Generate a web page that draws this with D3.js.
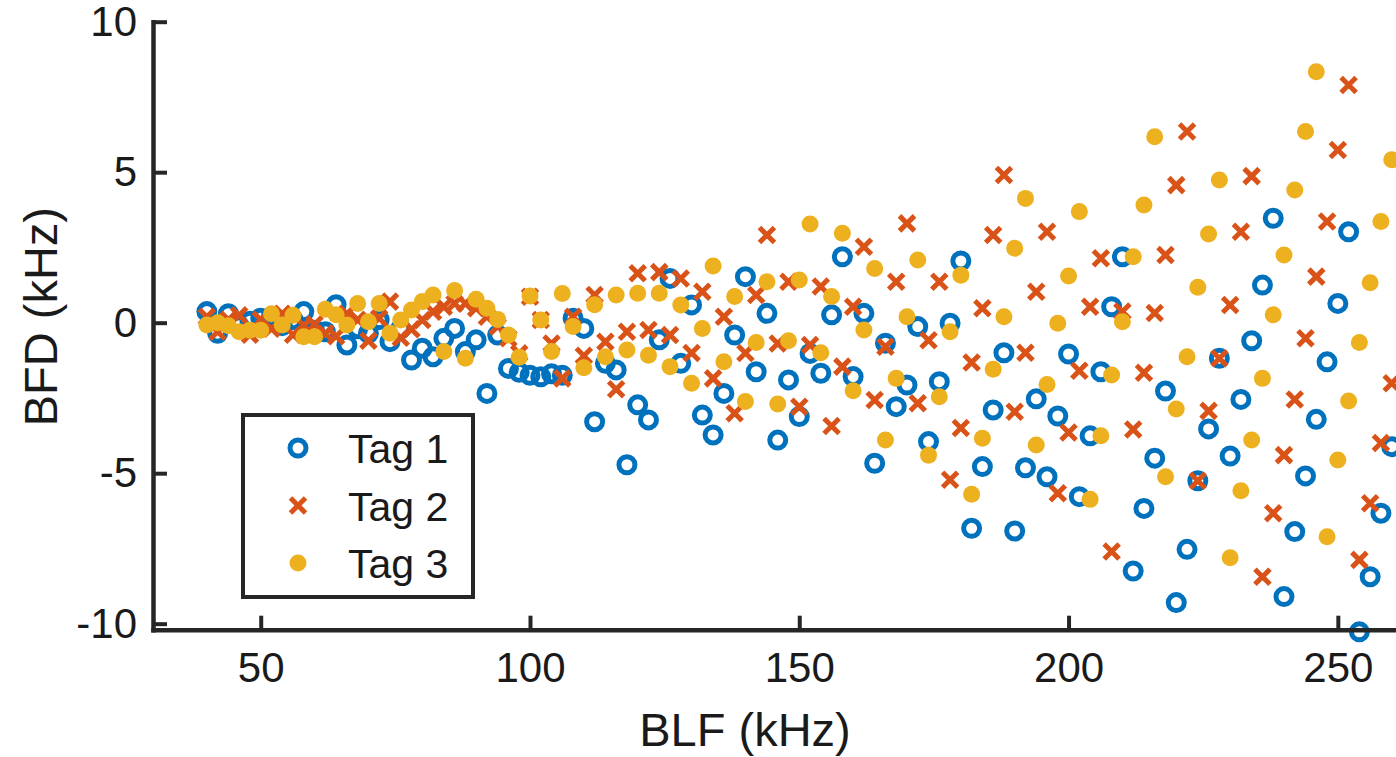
<!DOCTYPE html>
<html>
<head>
<meta charset="utf-8">
<script src="https://cdn.jsdelivr.net/npm/d3@7"></script>
<style>
  body { margin: 0; background: #fff; }
  svg { display: block; font-family: "Liberation Sans", Arial, Helvetica, sans-serif; }
  .axis path, .axis line { stroke: #262626; }
  .axis text { fill: #1a1a1a; }
</style>
</head>
<body>
<svg id="chart"></svg>
<script>
// BLF sweep (kHz)
const blf = [40, 42, 44, 46, 48, 50, 52, 54, 56, 58, 60, 62, 64, 66, 68, 70, 72, 74, 76, 78,
  80, 82, 84, 86, 88, 90, 92, 94, 96, 98, 100, 102, 104, 106, 108, 110, 112, 114, 116, 118,
  120, 122, 124, 126, 128, 130, 132, 134, 136, 138, 140, 142, 144, 146, 148, 150, 152, 154, 156, 158,
  160, 162, 164, 166, 168, 170, 172, 174, 176, 178, 180, 182, 184, 186, 188, 190, 192, 194, 196, 198,
  200, 202, 204, 206, 208, 210, 212, 214, 216, 218, 220, 222, 224, 226, 228, 230, 232, 234, 236, 238,
  240, 242, 244, 246, 248, 250, 252, 254, 256, 258, 260];

// BFD (kHz) per tag
const tag1 = [0.37, -0.35, 0.3, -0.1, 0.05, 0.15, 0.2, -0.1, 0.1, 0.37, -0.25, -0.3, 0.6, -0.74, -0.2, -0.35, 0.1, -0.63, -0.2, -1.24,
  -0.85, -1.13, -0.52, -0.19, -0.96, -0.57, -2.35, -0.41, -1.52, -1.65, -1.75, -1.8, -1.7, -1.75, 0.15, -0.19, -3.29, -1.35, -1.57, -4.72,
  -2.73, -3.23, -0.57, 1.47, -1.35, 0.59, -3.07, -3.73, -2.35, -0.41, 1.53, -1.63, 0.31, -3.9, -1.9, -3.12, -1.02, -1.68, 0.26, 2.19,
  -1.79, 0.31, -4.67, -0.68, -2.79, -2.07, -0.13, -3.95, -1.96, -0.02, 2.05, -6.83, -4.78, -2.9, -1.0, -6.92, -4.82, -2.53, -5.12, -3.1,
  -1.04, -5.78, -3.76, -1.63, 0.53, 2.19, -8.25, -6.17, -4.5, -2.27, -9.3, -7.53, -5.25, -3.53, -1.18, -4.43, -2.55, -0.6, 1.25, 3.47,
  -9.1, -6.94, -5.09, -3.21, -1.3, 0.64, 3.02, -10.27, -8.44, -6.33, -4.12];

const tag2 = [0.2, -0.3, 0.1, 0.25, -0.4, 0.1, -0.2, 0.3, -0.4, -0.1, -0.05, -0.35, -0.45, 0.3, 0.1, -0.6, 0.15, 0.7, -0.5, -0.22,
  0.09, 0.36, 0.53, 0.64, 0.64, 0.48, 0.2, -0.13, -0.52, -1.02, 0.86, 0.09, -0.69, -1.85, 0.2, -1.1, 0.92, -0.63, -2.21, -0.3,
  1.64, -0.24, 1.68, -0.41, 1.47, -1.01, 1.03, -1.85, 0.2, -3.01, -1.01, 0.92, 2.91, -0.69, 1.36, -2.79, -0.74, 1.2, -3.43, -1.46,
  0.53, 2.52, -2.57, -0.8, 1.36, 3.3, -2.68, -0.58, 1.36, -5.22, -3.5, -1.32, 0.48, 2.91, 4.91, -2.96, -1.0, 1.03, 3.02, -5.67,
  -3.65, -1.6, 0.53, 2.14, -7.6, 0.37, -3.55, -1.66, 0.32, 2.25, 4.57, 6.35, -5.25, -2.93, -1.18, 0.59, 3.02, 4.87, -8.44, -6.33,
  -4.4, -2.55, -0.52, 1.53, 3.36, 5.74, 7.9, -7.88, -6.0, -4.0, -2.01];

const tag3 = [-0.08, 0.0, -0.1, -0.3, -0.25, -0.25, 0.3, -0.08, 0.25, -0.47, -0.47, 0.45, 0.26, -0.08, 0.64, 0.03, 0.64, -0.35, 0.09, 0.42,
  0.7, 0.92, -0.96, 1.07, -1.18, 0.78, 0.48, 0.11, -0.41, -1.15, 0.89, 0.09, -0.96, 0.97, -0.13, -1.5, 0.6, -1.13, 0.92, -0.91,
  0.98, -1.08, 0.98, -1.46, 0.59, -2.01, -0.19, 1.88, -1.3, 0.87, -2.62, -0.66, 1.36, -2.7, -0.6, 1.42, 3.28, -1.0, 0.87, 2.97,
  -2.26, -0.24, 1.8, -3.9, -1.85, 0.2, 2.08, -4.4, -2.46, -0.3, 1.58, -5.7, -3.84, -1.55, 0.2, 2.47, 4.13, -4.06, -2.05, -0.02,
  1.55, 3.69, -5.87, -3.76, -1.74, 0.03, 2.19, 3.91, 6.18, -5.12, -2.87, -1.13, 1.18, 2.95, 4.74, -7.81, -5.58, -3.9, -1.85, 0.26,
  2.25, 4.41, 6.35, 8.34, -7.11, -4.56, -2.6, -0.66, 1.33, 3.36, 5.41];

const seriesNames = ['Tag 1', 'Tag 2', 'Tag 3'];
const seriesColors = ['#0072BD', '#D95319', '#EDB120'];
const seriesMarkers = ['circle', 'cross', 'dot'];
const xTicks = [50, 100, 150, 200, 250];
const yTicks = [-10, -5, 0, 5, 10];

class ScatterPlot {

  /**
   * Basic chart configuration
   */
  constructor(_config, _series) {
    this.config = {
      parentElement: _config.parentElement,
      containerWidth: _config.containerWidth || 1396,
      containerHeight: _config.containerHeight || 757,
      margin: _config.margin || {top: 21.7, right: 0, bottom: 127.3, left: 153}
    }
    this.series = _series;
    this.initVis();
  }

  /**
   * Scales, axes and static elements
   */
  initVis() {
    let vis = this;

    vis.width = vis.config.containerWidth - vis.config.margin.left - vis.config.margin.right;
    vis.height = vis.config.containerHeight - vis.config.margin.top - vis.config.margin.bottom;

    // x runs off the right edge of the picture (cropped figure)
    vis.xScale = d3.scaleLinear()
        .domain([30, 260.8])
        .range([0, vis.width]);

    vis.yScale = d3.scaleLinear()
        .domain([-10.2, 10])
        .range([vis.height, 0]);

    vis.xAxis = d3.axisBottom(vis.xScale)
        .tickValues(xTicks)
        .tickSize(-14)
        .tickSizeOuter(0)
        .tickPadding(22)
        .tickFormat(d => String(d));

    vis.yAxis = d3.axisLeft(vis.yScale)
        .tickValues(yTicks)
        .tickSize(-14)
        .tickSizeOuter(0)
        .tickPadding(16)
        .tickFormat(d => String(d));

    vis.svg = d3.select(vis.config.parentElement)
        .attr('width', vis.config.containerWidth)
        .attr('height', vis.config.containerHeight);

    vis.chart = vis.svg.append('g')
        .attr('transform', `translate(${vis.config.margin.left},${vis.config.margin.top})`);

    vis.marks = vis.chart.append('g');

    vis.xAxisG = vis.chart.append('g')
        .attr('class', 'axis x-axis')
        .attr('transform', `translate(0,${vis.height})`);

    vis.yAxisG = vis.chart.append('g')
        .attr('class', 'axis y-axis');

    // Axis titles
    vis.svg.append('text')
        .attr('x', 745)
        .attr('y', 746)
        .attr('text-anchor', 'middle')
        .style('font-size', '47px')
        .attr('fill', '#1a1a1a')
        .text('BLF (kHz)');

    vis.svg.append('text')
        .attr('transform', `translate(57,${vis.config.margin.top + vis.yScale(0.2)}) rotate(-90)`)
        .attr('text-anchor', 'middle')
        .style('font-size', '47px')
        .attr('fill', '#1a1a1a')
        .text('BFD (kHz)');

    vis.legend = vis.svg.append('g')
        .attr('transform', 'translate(243,415)');
  }

  /**
   * Prepare the data
   */
  updateVis() {
    let vis = this;
    vis.points = vis.series.map((s, i) => s.values.map((v, j) => ({x: blf[j], y: v, i: i})));
    vis.renderVis();
  }

  /**
   * Draw one marker of a given kind into a group
   */
  drawMarker(g, kind, color) {
    if (kind === 'circle') {
      g.append('circle').attr('r', 8).attr('fill', 'none')
          .attr('stroke', color).attr('stroke-width', 5);
    } else if (kind === 'cross') {
      g.append('path').attr('d', 'M-7.5,-7.5L7.5,7.5M-7.5,7.5L7.5,-7.5')
          .attr('stroke', color).attr('stroke-width', 5).attr('fill', 'none');
    } else {
      g.append('circle').attr('r', 8.5).attr('fill', color);
    }
  }

  renderVis() {
    let vis = this;

    vis.series.forEach((s, i) => {
      let g = vis.marks.append('g').attr('class', 'series-' + i);
      vis.points[i].forEach(d => {
        let m = g.append('g')
            .attr('transform', `translate(${vis.xScale(d.x)},${vis.yScale(d.y)})`);
        vis.drawMarker(m, s.marker, s.color);
      });
    });

    vis.xAxisG.call(vis.xAxis);
    vis.yAxisG.call(vis.yAxis);

    vis.chart.selectAll('.axis .domain')
        .attr('stroke-width', 4.5)
        .attr('stroke-linecap', 'square');
    vis.chart.selectAll('.axis .tick line')
        .attr('stroke-width', 4);
    vis.chart.selectAll('.axis text')
        .style('font-size', '42px');

    // Legend box
    vis.legend.append('rect')
        .attr('width', 230)
        .attr('height', 182)
        .attr('fill', '#fff')
        .attr('stroke', '#262626')
        .attr('stroke-width', 4);

    vis.series.forEach((s, i) => {
      let row = vis.legend.append('g')
          .attr('transform', `translate(55,${33 + i * 57.5})`);
      vis.drawMarker(row, s.marker, s.color);
      row.append('text')
          .attr('x', 50)
          .attr('y', 15)
          .style('font-size', '41px')
          .attr('fill', '#1a1a1a')
          .text(s.name);
    });
  }
}

const series = [tag1, tag2, tag3].map((values, i) => ({
  name: seriesNames[i], color: seriesColors[i], marker: seriesMarkers[i], values: values
}));

const plot = new ScatterPlot({parentElement: '#chart'}, series);
plot.updateVis();
</script>
</body>
</html>
